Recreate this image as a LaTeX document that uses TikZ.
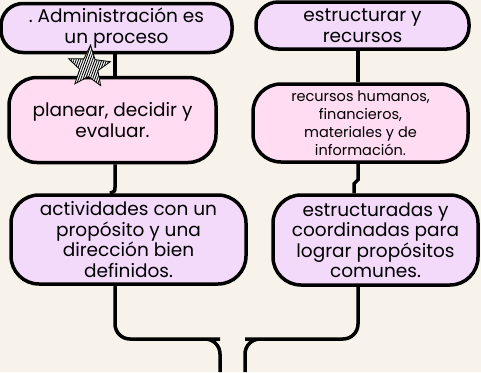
\documentclass[tikz,border=0pt]{standalone}
\usepackage{fontspec}
\setmainfont{Poppins}
\usepackage{xcolor}
\usetikzlibrary{shapes.geometric}
\usetikzlibrary{patterns.meta}
\usetikzlibrary{positioning}

\definecolor{bgcream}{HTML}{F7F3EB}
\definecolor{lilac}{HTML}{F3DAFB}
\definecolor{rosa}{HTML}{FFDCF2}

\begin{document}
\begin{tikzpicture}[
    x=1pt, y=1pt,
    box/.style={draw=black, line width=3.5pt, rounded corners=22pt,
      align=center, inner sep=0pt, font=\fontsize{18.5}{20.5}\selectfont},
    lilacbox/.style={box, fill=lilac},
    rosabox/.style={box, fill=rosa},
    link/.style={draw=black, line width=3.5pt},
    curvedlink/.style={link, rounded corners=15pt},
  ]

  % Background and page size
  \fill[bgcream] (0,0) rectangle (481,-372);
  \useasboundingbox (0,0) rectangle (481,-372);

  % Column guides
  \coordinate (lcol) at (115,0);
  \coordinate (rcol) at (358,0);

  % Boxes
  \node[lilacbox, minimum width=231pt, minimum height=49pt] (admin) at (116.5,-28) {.\ Administración es\\un proceso};
  \node[lilacbox, minimum width=213pt, minimum height=47pt] (estr) at (362.5,-25.5) {estructurar y\\recursos};
  \node[rosabox, minimum width=207pt, minimum height=85pt, rounded corners=28pt] (plan) at (112.5,-120) {planear, decidir y\\evaluar.};
  \node[rosabox, minimum width=215pt, minimum height=78pt, rounded corners=28pt,
    font=\fontsize{14.5}{18}\selectfont] (recu) at (360.5,-123) {recursos humanos,\\financieros,\\materiales y de\\información.};
  \node[lilacbox, minimum width=235pt, minimum height=89pt, rounded corners=28pt] (activ) at (128.5,-239.5) {actividades con un\\propósito y una\\dirección bien\\definidos.};
  \node[lilacbox, minimum width=205pt, minimum height=90pt, rounded corners=28pt] (coord) at (375.5,-240) {estructuradas y\\coordinadas para\\lograr propósitos\\comunes.};

  % Loose ends at the bottom
  \coordinate (lend) at (220,-372);
  \coordinate (rend) at (245,-372);

  % Links
  \draw[link] (admin.south -| lcol) -- (plan.north -| lcol);
  \draw[link] (plan.south -| lcol) -- ++(0,-23) .. controls +(0,-4) .. (activ.north -| {(110,0)});
  \draw[link] (estr.south -| rcol) -- (recu.north -| rcol);
  \draw[link] (recu.south -| rcol) -- ++(0,-16) -- ++(-4,-4) -- (coord.north -| {(354,0)});
  \draw[curvedlink] (activ.south -| lcol) |- (205,-339) -| (lend);
  \draw[curvedlink] (coord.south -| rcol) |- (260,-339) -| (rend);

  % Hatched star
  \node[star, star points=5, star point ratio=2.3, minimum size=44pt, inner sep=0pt,
    draw=black, line width=0.8pt, preaction={fill=white},
    pattern={Lines[angle=70, distance=2.2pt, line width=0.9pt]}, rotate=-4] (mark) at (89,-67) {};

\end{tikzpicture}
\end{document}
